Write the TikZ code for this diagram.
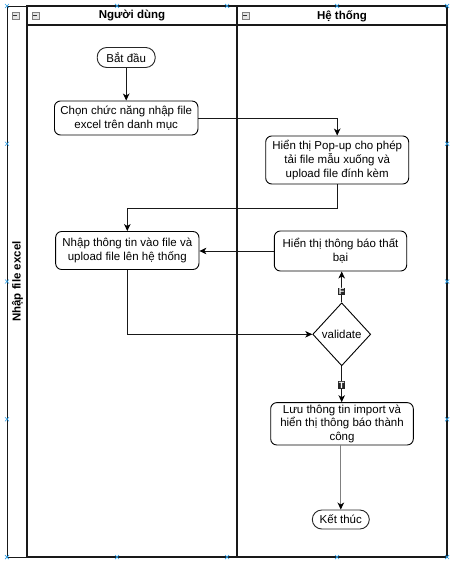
\documentclass[tikz,border=0pt]{standalone}
\usepackage{fontspec}
\setmainfont{Liberation Sans}
\usetikzlibrary{arrows.meta,shapes.geometric}
\definecolor{handle}{RGB}{41,157,230}
\begin{document}
\begin{tikzpicture}[x=1pt,y=-1pt,
  every node/.style={font=\fontsize{11.5}{13.8}\selectfont, text=black},
  box/.style={draw=black, line width=0.9pt, rounded corners=6pt, align=center, inner sep=0pt, fill=white},
  pill/.style={draw=black!85, line width=0.9pt, rounded corners=9.5pt, align=center, inner sep=0pt, fill=white},
  dec/.style={draw=black, line width=0.9pt, diamond, inner sep=0pt, minimum width=58pt, minimum height=63pt, fill=white},
  flow/.style={draw=black!90, line width=0.9pt, -{Stealth[length=7pt,width=6.5pt,inset=2pt,color=black]}},
  lane/.style={draw=black!90, line width=1.6pt},
  lbl/.style={fill=black!85, text=white, font=\fontsize{9}{10}\selectfont\bfseries, inner sep=0.8pt},
  hdr/.style={font=\fontsize{11.5}{13.8}\selectfont\bfseries},
  collapse/.style={draw=gray, fill=gray!20, line width=0.6pt}
]
\useasboundingbox (0,0) rectangle (455,561);

% pool and lanes
\draw[line width=0.8pt, draw=black!90] (7,6) rectangle (447,557);
\draw[lane] (27,6) rectangle (237,557);
\draw[lane] (237,6) rectangle (447,557);
\draw[lane] (27,25) -- (447,25);

% collapse boxes
\foreach \cx in {15.3,35.3,245.3}{
  \draw[collapse] (\cx-3.5,12.2) rectangle (\cx+3.5,19.2);
  \draw[line width=0.8pt, draw=black!80] (\cx-2,15.7) -- (\cx+2,15.7);
}

% headers
\node[hdr, rotate=90] (pool) at (17.5,281.5) {Nhập file excel};
\node[hdr] (h1) at (132,16) {Người dùng};
\node[hdr] (h2) at (342,16) {Hệ thống};

% nodes
\node[pill, minimum width=58pt, minimum height=20pt] (start) at (126.2,57.5) {Bắt đầu};
\node[box, minimum width=143.5pt, minimum height=34pt] (choose) at (126.2,118) {Chọn chức năng nhập file\\excel trên danh mục};
\node[box, minimum width=143pt, minimum height=48pt] (popup) at (337.2,160) {Hiển thị Pop-up cho phép\\tải file mẫu xuống và\\upload file đính kèm};
\node[box, minimum width=143.3pt, minimum height=38pt] (nhap) at (127.3,250.5) {Nhập thông tin vào file và\\upload file lên hệ thống};
\node[box, minimum width=132.4pt, minimum height=40pt] (fail) at (340.5,251) {Hiển thị thông báo thất\\bại};
\node[dec] (val) at (341.7,334.3) {validate};
\node[box, minimum width=142.6pt, minimum height=42.3pt] (luu) at (342,423.8) {Lưu thông tin import và\\hiển thị thông báo thành\\công};
\node[pill, minimum width=57pt, minimum height=19pt] (end) at (340.8,519.5) {Kết thúc};

% connectors
\draw[flow] (start) -- (choose);
\draw[flow] (choose.east) -| (popup.north);
\draw[flow] (popup.south) -- ++(0,24) -| (nhap.north);
\draw[flow] (fail.west) -- (fail.west -| nhap.east);
\draw[flow] (nhap.south) |- (val.west);
\draw[flow] (val.north) -- node[lbl, pos=0.35]{F} (val.north |- fail.south);
\draw[flow] (val.south) -- node[lbl, pos=0.52]{T} (val.south |- luu.north);
\draw[flow, draw=gray, line width=1.1pt] (luu.south -| end.north) -- (end.north);

% selection handles
\foreach \hx/\hy in {7/6,117/6,227/6,337/6,447/6,7/557,117/557,227/557,337/557,447/557,
                     7/143.75,7/281.5,7/419.25,447/143.75,447/281.5,447/419.25}{
  \draw[handle, line width=0.7pt] (\hx-2,\hy-2) -- (\hx+2,\hy+2) (\hx-2,\hy+2) -- (\hx+2,\hy-2);
}
\end{tikzpicture}
\end{document}
